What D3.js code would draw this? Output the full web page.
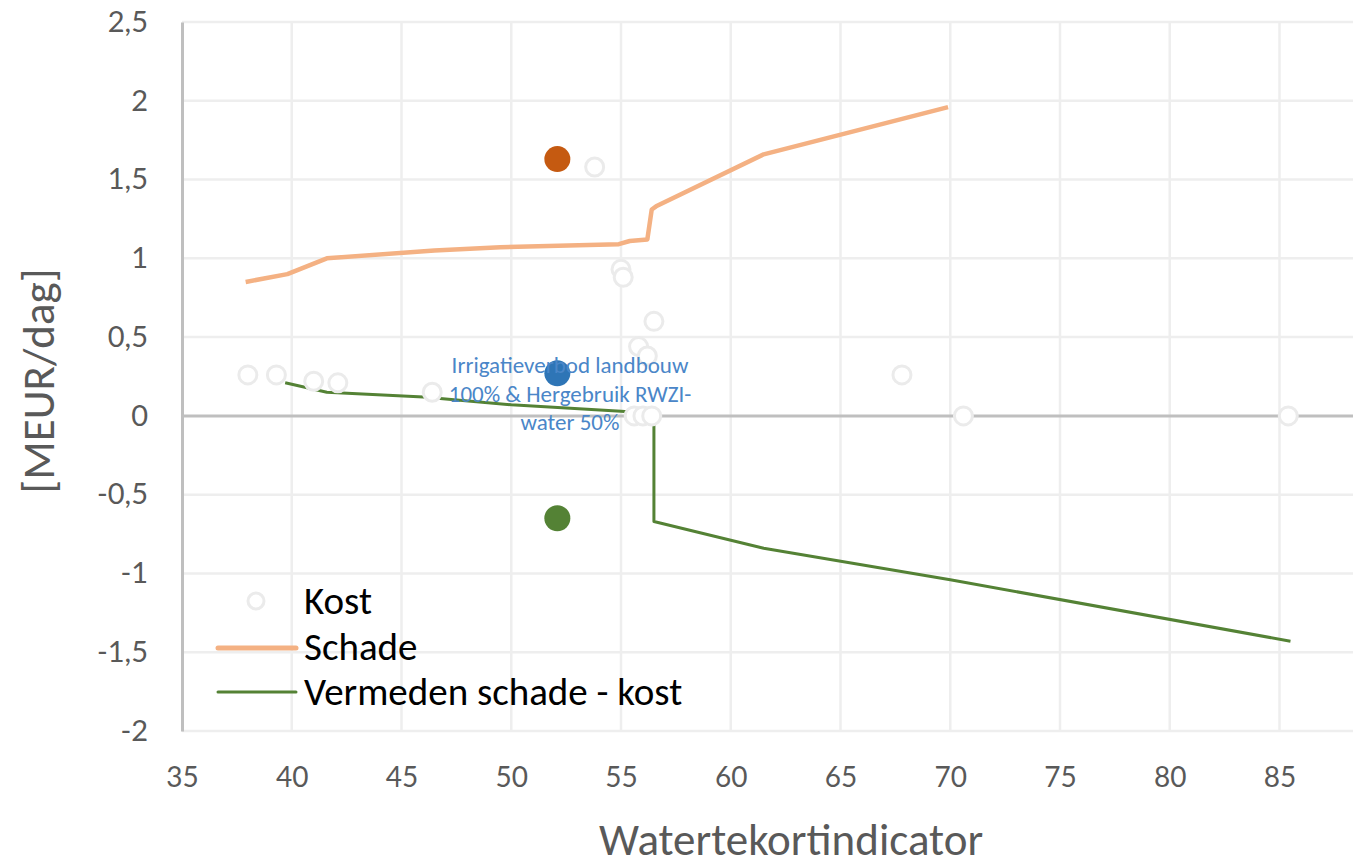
<!DOCTYPE html>
<html>
<head>
<meta charset="utf-8">
<script src="https://cdn.jsdelivr.net/npm/d3@7"></script>
<style>
  body { margin: 0; background: #fff; }
  text { font-family: Carlito, Calibri, Lato, sans-serif; }
</style>
</head>
<body>
<script>
// x ticks / y ticks
const xTicks = [35, 40, 45, 50, 55, 60, 65, 70, 75, 80, 85];
const yTicks = [2.5, 2, 1.5, 1, 0.5, 0, -0.5, -1, -1.5, -2];

// Kost (open circles)
const kostX = [38.0, 39.3, 41.0, 42.1, 46.4, 53.8, 55.0, 55.1, 55.8, 56.2, 56.5, 55.6, 56.0, 56.4, 67.8, 70.6, 85.4];
const kostY = [0.26, 0.26, 0.22, 0.21, 0.15, 1.58, 0.93, 0.88, 0.44, 0.38, 0.60, 0.0, 0.0, 0.0, 0.26, 0.0, 0.0];

// Schade line
const schadeX = [37.9, 39.8, 41.6, 46.5, 49.5, 54.9, 55.4, 56.2, 56.4, 56.6, 61.5, 69.9];
const schadeY = [0.85, 0.90, 1.00, 1.05, 1.07, 1.09, 1.11, 1.12, 1.31, 1.33, 1.66, 1.96];

// Vermeden schade - kost line
const vermX = [39.7, 41.6, 46.0, 50.0, 55.0, 56.0, 56.5, 56.5, 61.5, 70.0, 85.5];
const vermY = [0.21, 0.15, 0.12, 0.07, 0.03, 0.02, 0.0, -0.67, -0.84, -1.04, -1.43];

// highlighted scenario
const selX = 52.1;
const selKost = 0.27, selSchade = 1.63, selVerm = -0.65;
const selLabel = ["Irrigatieverbod landbouw", "100% & Hergebruik RWZI-", "water 50%"];

const W = 1353, H = 866;
const svg = d3.select("body").append("svg")
  .attr("width", W).attr("height", H);

const x = d3.scaleLinear().domain([35, 90]).range([182, 182 + 55 * 21.95]);
const y = d3.scaleLinear().domain([-2, 2.5]).range([731, 22]);

// grid
svg.append("g").selectAll("line")
  .data(xTicks.slice(1).concat([90]))
  .enter().append("line")
  .attr("x1", d => x(d)).attr("x2", d => x(d))
  .attr("y1", y(2.5)).attr("y2", y(-2))
  .attr("stroke", "#eeeeee").attr("stroke-width", 2.5);
svg.append("g").selectAll("line")
  .data(yTicks.filter(d => d !== 0))
  .enter().append("line")
  .attr("x1", x(35)).attr("x2", W)
  .attr("y1", d => y(d)).attr("y2", d => y(d))
  .attr("stroke", "#eeeeee").attr("stroke-width", 2.5);

// axes
const yAxis = svg.append("g")
  .attr("transform", `translate(${x(35)},0)`)
  .call(d3.axisLeft(y).tickValues(yTicks).tickSize(0).tickPadding(34)
    .tickFormat(d => String(d).replace(".", ",")));
yAxis.select(".domain").attr("stroke", "#bfbfbf").attr("stroke-width", 3);
yAxis.selectAll("text").attr("font-size", 29).attr("fill", "#595959")
  .style("font-family", "Lato, sans-serif");

const xAxis = svg.append("g")
  .attr("transform", `translate(0,${y(-2)})`)
  .call(d3.axisBottom(x).tickValues(xTicks).tickSize(0).tickPadding(36).tickFormat(d3.format("d")));
xAxis.select(".domain").remove();
xAxis.selectAll("text").attr("font-size", 28).attr("fill", "#595959")
  .style("font-family", "Lato, sans-serif");

// zero line
svg.append("line")
  .attr("x1", x(35)).attr("x2", W)
  .attr("y1", y(0)).attr("y2", y(0))
  .attr("stroke", "#bfbfbf").attr("stroke-width", 3);

const line = d3.line().x(d => x(d[0])).y(d => y(d[1]));

svg.append("path")
  .datum(schadeX.map((d, i) => [d, schadeY[i]]))
  .attr("d", line).attr("fill", "none")
  .attr("stroke", "#f4b183").attr("stroke-width", 4.5).attr("stroke-linejoin", "round");

svg.append("path")
  .datum(vermX.map((d, i) => [d, vermY[i]]))
  .attr("d", line).attr("fill", "none")
  .attr("stroke", "#548235").attr("stroke-width", 3).attr("stroke-linejoin", "round");

// kost circles drawn on top (white fill hides the line)
svg.append("g").selectAll("circle")
  .data(kostX.map((d, i) => [d, kostY[i]]))
  .enter().append("circle")
  .attr("cx", d => x(d[0])).attr("cy", d => y(d[1]))
  .attr("r", 9)
  .attr("fill", "#fff").attr("stroke", "#ebebeb").attr("stroke-width", 3);

// selected scenario
svg.append("circle").attr("cx", x(selX)).attr("cy", y(selSchade)).attr("r", 13).attr("fill", "#c55a11");
svg.append("circle").attr("cx", x(selX)).attr("cy", y(selKost)).attr("r", 13).attr("fill", "#2e75b6");
svg.append("circle").attr("cx", x(selX)).attr("cy", y(selVerm)).attr("r", 13).attr("fill", "#548235");

svg.append("text")
  .attr("x", 570).attr("y", 373)
  .attr("text-anchor", "middle").attr("font-size", 23).attr("fill", "#4a86c8")
  .selectAll("tspan").data(selLabel).enter().append("tspan")
  .attr("x", 570).attr("dy", (d, i) => i === 0 ? 0 : 28.5)
  .text(d => d);

// legend
const lg = svg.append("g").attr("font-size", 39).attr("fill", "#000");
lg.append("circle").attr("cx", 256).attr("cy", 601).attr("r", 8)
  .attr("fill", "#fff").attr("stroke", "#ebebeb").attr("stroke-width", 3);
lg.append("text").attr("x", 304).attr("y", 614).text("Kost");
lg.append("line").attr("x1", 218).attr("x2", 296).attr("y1", 648).attr("y2", 648)
  .attr("stroke", "#f4b183").attr("stroke-width", 5).attr("stroke-linecap", "round");
lg.append("text").attr("x", 304).attr("y", 660).text("Schade");
lg.append("line").attr("x1", 218).attr("x2", 296).attr("y1", 692).attr("y2", 692)
  .attr("stroke", "#548235").attr("stroke-width", 3).attr("stroke-linecap", "round");
lg.append("text").attr("x", 304).attr("y", 705).text("Vermeden schade - kost");

// axis titles
svg.append("text")
  .attr("transform", "translate(54,381) rotate(-90)")
  .attr("text-anchor", "middle").attr("font-size", 45).attr("fill", "#595959")
  .text("[MEUR/dag]");
svg.append("text")
  .attr("x", 791).attr("y", 855)
  .attr("text-anchor", "middle").attr("font-size", 45).attr("fill", "#595959")
  .text("Watertekortindicator");
</script>
</body>
</html>
